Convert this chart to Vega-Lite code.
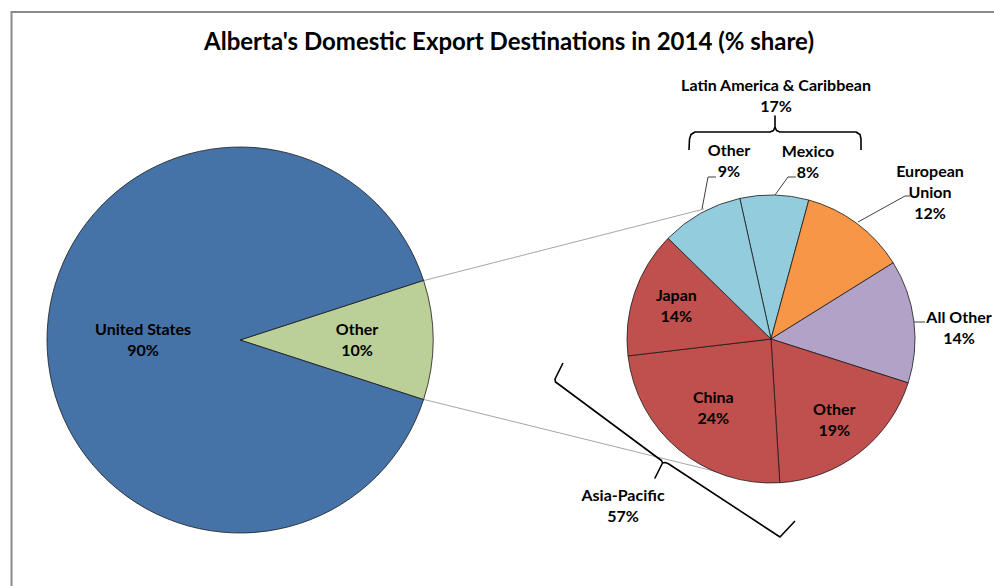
{
  "$schema": "https://vega.github.io/schema/vega-lite/v6.json",
  "width": 994,
  "height": 586,
  "autosize": {"type": "none"},
  "padding": 0,
  "background": "white",
  "config": {"view": {"stroke": null}},
  "title": {
    "text": "Alberta's Domestic Export Destinations in 2014 (% share)",
    "font": "Lato", "fontSize": 24, "fontWeight": "bold", "color": "#000000",
    "anchor": "middle", "frame": "group", "dx": 12, "offset": -74, "baseline": "alphabetic"
  },
  "datasets": {
    "centers": [
      {"pie": "main", "cx": 240, "cy": 340},
      {"pie": "detail", "cx": 771, "cy": 339}
    ],
    "slices": [
      {"pie": "main", "name": "Other", "group": "Other", "share": 10, "rank": 1, "label": "Other\n10%"},
      {"pie": "main", "name": "United States", "group": "United States", "share": 90, "rank": 2, "label": "United States\n90%"},
      {"pie": "detail", "name": "Mexico", "group": "Latin America & Caribbean", "share": 7.7, "rank": 1, "label": ""},
      {"pie": "detail", "name": "European Union", "group": "European Union", "share": 11.9, "rank": 2, "label": ""},
      {"pie": "detail", "name": "All Other", "group": "All Other", "share": 13.8, "rank": 3, "label": ""},
      {"pie": "detail", "name": "Other", "group": "Asia-Pacific", "share": 19.1, "rank": 4, "label": "Other\n19%"},
      {"pie": "detail", "name": "China", "group": "Asia-Pacific", "share": 24.1, "rank": 5, "label": "China\n24%"},
      {"pie": "detail", "name": "Japan", "group": "Asia-Pacific", "share": 14.2, "rank": 6, "label": "Japan\n14%"},
      {"pie": "detail", "name": "Other", "group": "Latin America & Caribbean", "share": 9.2, "rank": 7, "label": ""}
    ],
    "lines": [
      {"kind": "frame", "id": "f1", "i": 1, "x": 11.5, "y": 600},
      {"kind": "frame", "id": "f1", "i": 2, "x": 11.5, "y": 12},
      {"kind": "frame", "id": "f1", "i": 3, "x": 1000, "y": 12},
      {"kind": "connector", "id": "c1", "i": 1, "x": 424, "y": 280.5},
      {"kind": "connector", "id": "c1", "i": 2, "x": 704, "y": 209},
      {"kind": "connector", "id": "c2", "i": 1, "x": 424, "y": 399.5},
      {"kind": "connector", "id": "c2", "i": 2, "x": 726, "y": 474},
      {"kind": "leader", "id": "l1", "i": 1, "x": 702, "y": 209},
      {"kind": "leader", "id": "l1", "i": 2, "x": 708, "y": 177},
      {"kind": "leader", "id": "l1", "i": 3, "x": 716, "y": 177},
      {"kind": "leader", "id": "l2", "i": 1, "x": 775, "y": 195},
      {"kind": "leader", "id": "l2", "i": 2, "x": 788, "y": 177},
      {"kind": "leader", "id": "l2", "i": 3, "x": 796, "y": 177},
      {"kind": "leader", "id": "l3", "i": 1, "x": 858, "y": 222},
      {"kind": "leader", "id": "l3", "i": 2, "x": 905, "y": 196},
      {"kind": "leader", "id": "l3", "i": 3, "x": 910, "y": 196},
      {"kind": "leader", "id": "l4", "i": 1, "x": 914, "y": 322},
      {"kind": "leader", "id": "l4", "i": 2, "x": 925, "y": 322},
      {"kind": "bracket", "id": "b1", "i": 1, "x": 689, "y": 150},
      {"kind": "bracket", "id": "b1", "i": 2, "x": 689.5, "y": 139},
      {"kind": "bracket", "id": "b1", "i": 3, "x": 691, "y": 134.5},
      {"kind": "bracket", "id": "b1", "i": 4, "x": 695, "y": 132},
      {"kind": "bracket", "id": "b1", "i": 5, "x": 770, "y": 132},
      {"kind": "bracket", "id": "b1", "i": 6, "x": 773.5, "y": 130.5},
      {"kind": "bracket", "id": "b1", "i": 7, "x": 775, "y": 127},
      {"kind": "bracket", "id": "b1", "i": 8, "x": 775, "y": 116},
      {"kind": "bracket", "id": "b1", "i": 9, "x": 775, "y": 127},
      {"kind": "bracket", "id": "b1", "i": 10, "x": 776.5, "y": 130.5},
      {"kind": "bracket", "id": "b1", "i": 11, "x": 780, "y": 132},
      {"kind": "bracket", "id": "b1", "i": 12, "x": 856, "y": 132},
      {"kind": "bracket", "id": "b1", "i": 13, "x": 860, "y": 134.5},
      {"kind": "bracket", "id": "b1", "i": 14, "x": 861, "y": 139},
      {"kind": "bracket", "id": "b1", "i": 15, "x": 861, "y": 150},
      {"kind": "bracket", "id": "b2", "i": 1, "x": 563, "y": 363},
      {"kind": "bracket", "id": "b2", "i": 2, "x": 555, "y": 379},
      {"kind": "bracket", "id": "b2", "i": 3, "x": 555.5, "y": 382},
      {"kind": "bracket", "id": "b2", "i": 4, "x": 559, "y": 384.5},
      {"kind": "bracket", "id": "b2", "i": 5, "x": 658, "y": 458},
      {"kind": "bracket", "id": "b2", "i": 6, "x": 661.5, "y": 460.5},
      {"kind": "bracket", "id": "b2", "i": 7, "x": 662.5, "y": 463},
      {"kind": "bracket", "id": "b2", "i": 8, "x": 655, "y": 478},
      {"kind": "bracket", "id": "b2", "i": 9, "x": 662.5, "y": 463},
      {"kind": "bracket", "id": "b2", "i": 10, "x": 665, "y": 462.5},
      {"kind": "bracket", "id": "b2", "i": 11, "x": 668, "y": 463.5},
      {"kind": "bracket", "id": "b2", "i": 12, "x": 780, "y": 537},
      {"kind": "bracket", "id": "b2", "i": 13, "x": 795, "y": 521}
    ],
    "notes": [
      {"x": 776, "y": 86, "text": "Latin America & Caribbean\n17%"},
      {"x": 729, "y": 151, "text": "Other\n9%"},
      {"x": 808, "y": 151.5, "text": "Mexico\n8%"},
      {"x": 930, "y": 171.5, "text": "European\nUnion\n12%"},
      {"x": 959, "y": 318, "text": "All Other\n14%"},
      {"x": 623, "y": 495.5, "text": "Asia-Pacific\n57%"}
    ]
  },
  "layer": [
    {
      "data": {"name": "lines"},
      "transform": [{"filter": "datum.kind === 'frame'"}],
      "mark": {"type": "line", "color": "#8a8a8a", "strokeWidth": 2, "strokeJoin": "miter"},
      "encoding": {
        "x": {"field": "x", "type": "quantitative", "scale": {"domain": [0, 994], "nice": false, "zero": false}, "axis": null},
        "y": {"field": "y", "type": "quantitative", "scale": {"domain": [0, 586], "reverse": true, "nice": false, "zero": false}, "axis": null},
        "detail": {"field": "id"},
        "order": {"field": "i", "type": "quantitative"}
      }
    },
    {
      "data": {"name": "lines"},
      "transform": [{"filter": "datum.kind === 'connector'"}],
      "mark": {"type": "line", "color": "#a6a6a6", "strokeWidth": 1},
      "encoding": {
        "x": {"field": "x", "type": "quantitative"},
        "y": {"field": "y", "type": "quantitative"},
        "detail": {"field": "id"},
        "order": {"field": "i", "type": "quantitative"}
      }
    },
    {
      "data": {"name": "slices"},
      "transform": [
        {"filter": "datum.pie === 'main'"},
        {"lookup": "pie", "from": {"data": {"name": "centers"}, "key": "pie", "fields": ["cx", "cy"]}}
      ],
      "encoding": {
        "x": {"field": "cx", "type": "quantitative"},
        "y": {"field": "cy", "type": "quantitative"},
        "theta": {"field": "share", "type": "quantitative", "stack": true, "scale": {"range": [1.2566371, 7.5398224]}},
        "order": {"field": "rank", "type": "quantitative"}
      },
      "layer": [
        {
          "mark": {"type": "arc", "radius": 193, "stroke": "#1a1a1a", "strokeWidth": 0.8},
          "encoding": {
            "color": {"field": "group", "type": "nominal", "legend": null,
              "scale": {"domain": ["United States", "Other", "Latin America & Caribbean", "European Union", "All Other", "Asia-Pacific"],
                        "range": ["#4572A7", "#BBCF98", "#93CDDD", "#F79646", "#B3A2C7", "#C0504D"]}}
          }
        },
        {
          "mark": {"type": "text", "radius": {"expr": "datum.name === 'Other' ? 117 : 97"}, "dy": -10.5, "font": "Lato", "fontSize": 16, "fontWeight": "bold", "color": "#000000", "lineBreak": "\n", "lineHeight": 21, "align": "center", "baseline": "middle"},
          "encoding": {"text": {"field": "label"}}
        }
      ]
    },
    {
      "data": {"name": "slices"},
      "transform": [
        {"filter": "datum.pie === 'detail'"},
        {"lookup": "pie", "from": {"data": {"name": "centers"}, "key": "pie", "fields": ["cx", "cy"]}}
      ],
      "encoding": {
        "x": {"field": "cx", "type": "quantitative"},
        "y": {"field": "cy", "type": "quantitative"},
        "theta": {"field": "share", "type": "quantitative", "stack": true, "scale": {"range": [-0.2181662, 6.0650191]}},
        "order": {"field": "rank", "type": "quantitative"}
      },
      "layer": [
        {
          "mark": {"type": "arc", "radius": 144, "stroke": "#1a1a1a", "strokeWidth": 0.8},
          "encoding": {
            "color": {"field": "group", "type": "nominal", "legend": null}
          }
        },
        {
          "mark": {"type": "text", "radius": {"expr": "datum.name === 'China' ? 90 : datum.name === 'Japan' ? 100 : 103"}, "dy": -10.5, "font": "Lato", "fontSize": 16, "fontWeight": "bold", "color": "#000000", "lineBreak": "\n", "lineHeight": 21, "align": "center", "baseline": "middle"},
          "encoding": {"text": {"field": "label"}}
        }
      ]
    },
    {
      "data": {"name": "lines"},
      "transform": [{"filter": "datum.kind === 'leader'"}],
      "mark": {"type": "line", "color": "#404040", "strokeWidth": 1},
      "encoding": {
        "x": {"field": "x", "type": "quantitative"},
        "y": {"field": "y", "type": "quantitative"},
        "detail": {"field": "id"},
        "order": {"field": "i", "type": "quantitative"}
      }
    },
    {
      "data": {"name": "lines"},
      "transform": [{"filter": "datum.kind === 'bracket'"}],
      "mark": {"type": "line", "color": "#000000", "strokeWidth": 1.6, "strokeJoin": "round"},
      "encoding": {
        "x": {"field": "x", "type": "quantitative"},
        "y": {"field": "y", "type": "quantitative"},
        "detail": {"field": "id"},
        "order": {"field": "i", "type": "quantitative"}
      }
    },
    {
      "data": {"name": "notes"},
      "mark": {"type": "text", "font": "Lato", "fontSize": 16, "fontWeight": "bold", "color": "#000000", "lineBreak": "\n", "lineHeight": 21, "align": "center", "baseline": "middle"},
      "encoding": {
        "x": {"field": "x", "type": "quantitative"},
        "y": {"field": "y", "type": "quantitative"},
        "text": {"field": "text"}
      }
    }
  ],
  "resolve": {"scale": {"theta": "independent"}}
}
